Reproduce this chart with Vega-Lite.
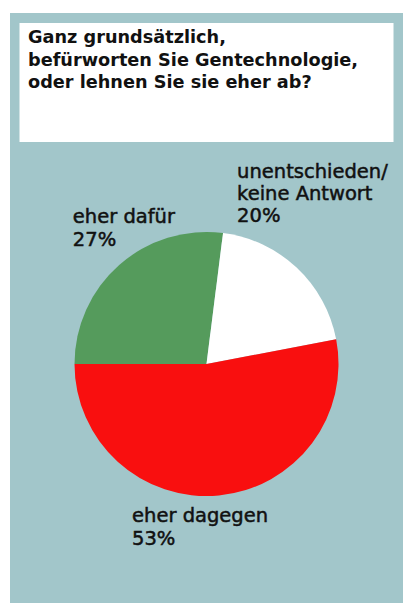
{
  "$schema": "https://vega.github.io/schema/vega-lite/v6.json",
  "background": "#A2C6CA",
  "padding": 0,
  "config": {"view": {"stroke": null}, "font": "DejaVu Sans"},
  "hconcat": [
    {
      "width": 10, "height": 603,
      "data": {"values": []},
      "mark": "point",
      "view": {"fill": "#FFFFFF", "stroke": null}
    },
    {
      "vconcat": [
        {
          "width": 393, "height": 13,
          "data": {"values": []},
          "mark": "point",
          "view": {"fill": "#FFFFFF", "stroke": null}
        },
        {
          "width": 374, "height": 119,
          "data": {"values": [{"q": "Ganz grundsätzlich,\nbefürworten Sie Gentechnologie,\noder lehnen Sie sie eher ab?"}]},
          "mark": {"type": "text", "align": "left", "baseline": "alphabetic", "lineBreak": "\n", "lineHeight": 22.5,
                   "font": "DejaVu Sans", "fontSize": 17.7, "fontWeight": "bold", "color": "#111111"},
          "encoding": {
            "text": {"field": "q"},
            "x": {"value": 8.5},
            "y": {"value": 20}
          },
          "view": {"fill": "#FFFFFF", "stroke": null}
        },
        {
          "width": 393, "height": 424,
          "view": {"stroke": null},
          "data": {"values": [
            {"k": "eher dafür", "v": 27, "o": 1, "label": "eher dafür\n27%"},
            {"k": "unentschieden/keine Antwort", "v": 20, "o": 2, "label": "unentschieden/\nkeine Antwort\n20%"},
            {"k": "eher dagegen", "v": 53, "o": 3, "label": "eher dagegen\n53%"}
          ]},
          "encoding": {
            "theta": {"field": "v", "type": "quantitative", "stack": true,
              "scale": {"type": "linear", "domain": [0, 100], "range": [4.71238898, 10.99557429]}},
            "order": {"field": "o", "type": "quantitative"}
          },
          "layer": [
            {
              "mark": {"type": "arc", "outerRadius": 132},
              "encoding": {
                "color": {"field": "k", "type": "nominal", "legend": null,
                  "scale": {"domain": ["eher dafür", "unentschieden/keine Antwort", "eher dagegen"],
                            "range": ["#559B5C", "#FFFFFF", "#F90F0F"]}}
              }
            },
            {
              "mark": {"type": "text", "clip": true, "radius": 190, "align": "left", "baseline": "alphabetic", "lineBreak": "\n",
                       "lineHeight": 23, "dx": -8, "dy": 1.5, "font": "DejaVu Sans", "fontSize": 19.5, "color": "#111111",
                       "stroke": "#111111", "strokeWidth": 0.5},
              "encoding": {"text": {"condition": {"test": "datum.o === 1", "field": "label"}, "value": ""}}
            },
            {
              "mark": {"type": "text", "clip": true, "radius": 190, "align": "left", "baseline": "alphabetic", "lineBreak": "\n",
                       "lineHeight": 22, "dx": -99.5, "dy": -47.5, "font": "DejaVu Sans", "fontSize": 19.5, "color": "#111111",
                       "stroke": "#111111", "strokeWidth": 0.5},
              "encoding": {"text": {"condition": {"test": "datum.o === 2", "field": "label"}, "value": ""}}
            },
            {
              "mark": {"type": "text", "clip": true, "radius": 160, "align": "left", "baseline": "alphabetic", "lineBreak": "\n",
                       "lineHeight": 23, "dx": -89.5, "dy": -1.5, "font": "DejaVu Sans", "fontSize": 19.5, "color": "#111111",
                       "stroke": "#111111", "strokeWidth": 0.5},
              "encoding": {"text": {"condition": {"test": "datum.o === 3", "field": "label"}, "value": ""}}
            }
          ]
        }
      ],
      "spacing": 10,
      "center": true
    }
  ],
  "spacing": 0
}
